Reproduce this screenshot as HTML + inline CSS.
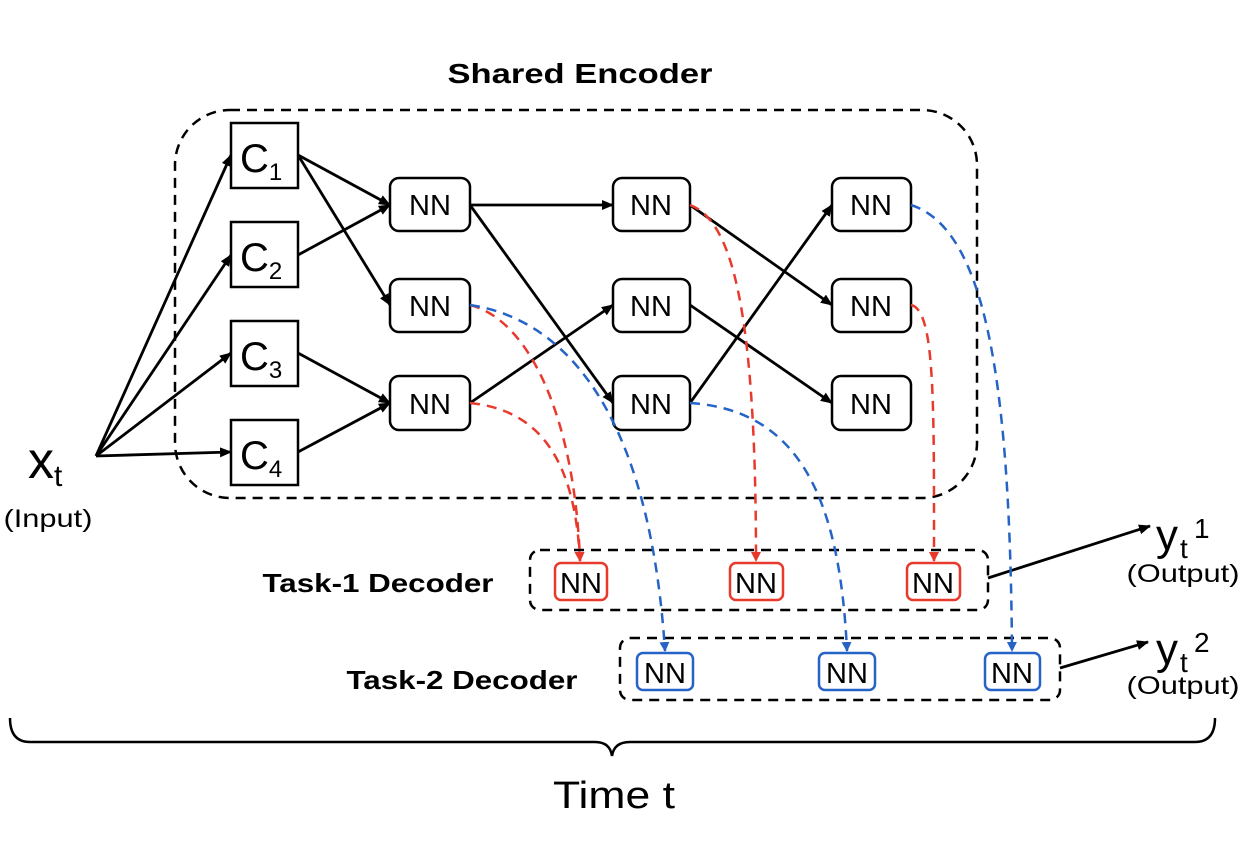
<!DOCTYPE html>
<html><head><meta charset="utf-8"><style>
body{margin:0;background:#fff}
svg text{font-family:"Liberation Sans",Arial,sans-serif}
</style></head><body>
<svg width="1244" height="850" viewBox="0 0 1244 850" xmlns="http://www.w3.org/2000/svg">
<defs>
<marker id="ak" markerWidth="12" markerHeight="10" refX="11" refY="5" orient="auto" markerUnits="userSpaceOnUse"><path d="M0,0 L12,5 L0,10z" fill="#000"/></marker>
<marker id="ar2" markerWidth="10" markerHeight="10" refX="9" refY="5" orient="auto" markerUnits="userSpaceOnUse"><path d="M0,0 L10,5 L0,10z" fill="#e8392d"/></marker>
<marker id="ab" markerWidth="10" markerHeight="10" refX="9" refY="5" orient="auto" markerUnits="userSpaceOnUse"><path d="M0,0 L10,5 L0,10z" fill="#2563c6"/></marker>
</defs>
<text x="580" y="83" font-size="28" font-weight="bold" text-anchor="middle" textLength="265" lengthAdjust="spacingAndGlyphs">Shared Encoder</text>
<rect x="175" y="110" width="802" height="388" rx="55" fill="none" stroke="#000" stroke-width="2.5" stroke-dasharray="10,7"/>
<g fill="#fff" stroke="#000" stroke-width="2.5">
<rect x="231" y="123" width="67" height="65"/><rect x="231" y="222" width="67" height="65"/>
<rect x="231" y="321" width="67" height="65"/><rect x="231" y="420" width="67" height="65"/>
</g>
<g font-size="40">
<text x="240" y="172">C<tspan font-size="24" dy="8">1</tspan></text>
<text x="240" y="271">C<tspan font-size="24" dy="8">2</tspan></text>
<text x="240" y="370">C<tspan font-size="24" dy="8">3</tspan></text>
<text x="240" y="469">C<tspan font-size="24" dy="8">4</tspan></text>
</g>
<g fill="#fff" stroke="#000" stroke-width="2.5">
<rect x="390" y="178" width="80" height="53" rx="9"/><rect x="390" y="279" width="80" height="53" rx="9"/><rect x="390" y="376" width="80" height="54" rx="9"/>
<rect x="613" y="178" width="77" height="53" rx="9"/><rect x="613" y="279" width="77" height="53" rx="9"/><rect x="613" y="376" width="77" height="54" rx="9"/>
<rect x="832" y="178" width="79" height="53" rx="9"/><rect x="832" y="279" width="79" height="53" rx="9"/><rect x="832" y="376" width="79" height="54" rx="9"/>
</g>
<g font-size="29" text-anchor="middle">
<text x="430" y="215">NN</text><text x="430" y="316">NN</text><text x="430" y="414">NN</text>
<text x="651" y="215">NN</text><text x="651" y="316">NN</text><text x="651" y="414">NN</text>
<text x="871" y="215">NN</text><text x="871" y="316">NN</text><text x="871" y="414">NN</text>
</g>
<g stroke="#000" stroke-width="2.8" marker-end="url(#ak)">
<line x1="96" y1="456" x2="231" y2="155"/><line x1="96" y1="456" x2="231" y2="255"/>
<line x1="96" y1="456" x2="231" y2="353"/><line x1="96" y1="456" x2="231" y2="452"/>
<line x1="298" y1="155" x2="390" y2="205"/><line x1="298" y1="155" x2="390" y2="305"/>
<line x1="298" y1="255" x2="390" y2="205"/><line x1="298" y1="353" x2="390" y2="403"/>
<line x1="298" y1="452" x2="390" y2="403"/>
<line x1="470" y1="205" x2="613" y2="205"/><line x1="470" y1="205" x2="613" y2="403"/>
<line x1="470" y1="403" x2="613" y2="305"/>
<line x1="690" y1="205" x2="832" y2="305"/><line x1="690" y1="305" x2="832" y2="403"/>
<line x1="690" y1="403" x2="832" y2="205"/>
<line x1="988" y1="578" x2="1150" y2="526"/><line x1="1060" y1="668" x2="1148" y2="642"/>
</g>
<text x="28" y="478" font-size="52">x<tspan font-size="30" dy="8">t</tspan></text>
<text x="48" y="527" font-size="25" text-anchor="middle" textLength="89" lengthAdjust="spacingAndGlyphs">(Input)</text>
<rect x="530" y="550" width="458" height="60" rx="10" fill="none" stroke="#000" stroke-width="2.5" stroke-dasharray="10,7"/>
<rect x="620" y="638" width="440" height="62" rx="10" fill="none" stroke="#000" stroke-width="2.5" stroke-dasharray="10,7"/>
<g fill="#fff" stroke="#e8392d" stroke-width="2.5">
<rect x="555" y="563" width="52" height="37" rx="6"/><rect x="730" y="563" width="53" height="37" rx="6"/><rect x="907" y="563" width="53" height="37" rx="6"/>
</g>
<g fill="#fff" stroke="#2563c6" stroke-width="2.5">
<rect x="637" y="653" width="56" height="37" rx="6"/><rect x="819" y="653" width="56" height="37" rx="6"/><rect x="985" y="653" width="55" height="37" rx="6"/>
</g>
<g font-size="29" text-anchor="middle">
<text x="581" y="593">NN</text><text x="756" y="593">NN</text><text x="933" y="593">NN</text>
<text x="665" y="683">NN</text><text x="847" y="683">NN</text><text x="1012" y="683">NN</text>
</g>
<g fill="none" stroke-width="2.5" stroke-dasharray="10,7">
<path d="M470,403 C540,410 575,460 580,561" stroke="#e8392d" marker-end="url(#ar2)"/>
<path d="M470,305 C530,320 575,420 580,561" stroke="#e8392d" marker-end="url(#ar2)"/>
<path d="M690,205 C730,220 756,300 756,561" stroke="#e8392d" marker-end="url(#ar2)"/>
<path d="M911,305 C935,310 934,400 934,561" stroke="#e8392d" marker-end="url(#ar2)"/>
<path d="M470,305 C570,320 650,420 665,651" stroke="#2563c6" marker-end="url(#ab)"/>
<path d="M690,403 C800,410 840,500 847,651" stroke="#2563c6" marker-end="url(#ab)"/>
<path d="M911,205 C990,230 1010,400 1012,651" stroke="#2563c6" marker-end="url(#ab)"/>
</g>
<text x="378" y="592" font-size="26" font-weight="bold" text-anchor="middle" textLength="231" lengthAdjust="spacingAndGlyphs">Task-1 Decoder</text>
<text x="462" y="689" font-size="26" font-weight="bold" text-anchor="middle" textLength="231" lengthAdjust="spacingAndGlyphs">Task-2 Decoder</text>
<text x="1156" y="550" font-size="44">y</text><text x="1180" y="558" font-size="28">t</text><text x="1194" y="538" font-size="28">1</text>
<text x="1183" y="582" font-size="25" text-anchor="middle" textLength="113" lengthAdjust="spacingAndGlyphs">(Output)</text>
<text x="1156" y="664" font-size="44">y</text><text x="1180" y="672" font-size="28">t</text><text x="1194" y="652" font-size="28">2</text>
<text x="1183" y="694" font-size="25" text-anchor="middle" textLength="113" lengthAdjust="spacingAndGlyphs">(Output)</text>
<path d="M10,718 Q10,742 30,742 L595,742 Q610,742 612,756 Q614,742 630,742 L1195,742 Q1215,742 1215,718" fill="none" stroke="#000" stroke-width="2.5"/>
<text x="614" y="808" font-size="38" text-anchor="middle" textLength="122" lengthAdjust="spacingAndGlyphs">Time  t</text>
</svg>
</body></html>
